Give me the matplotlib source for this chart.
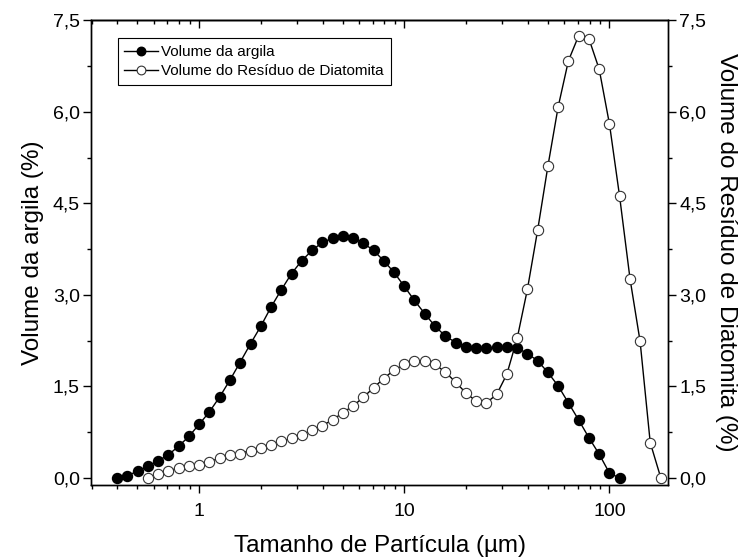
import matplotlib
matplotlib.use("Agg")
import matplotlib.pyplot as plt
from matplotlib.ticker import FixedLocator, FuncFormatter, MultipleLocator, LogLocator, NullFormatter

plt.rcParams['font.family'] = ['Liberation Sans', 'DejaVu Sans']

# particle size grid (µm)
sizes = [0.398, 0.447, 0.501, 0.562, 0.631, 0.708, 0.794, 0.891,
         1.00, 1.12, 1.26, 1.41, 1.58, 1.78, 2.00, 2.24, 2.51, 2.82, 3.16, 3.55,
         3.98, 4.47, 5.01, 5.62, 6.31, 7.08, 7.94, 8.91,
         10.0, 11.2, 12.6, 14.1, 15.8, 17.8, 20.0, 22.4, 25.1, 28.2, 31.6, 35.5,
         39.8, 44.7, 50.1, 56.2, 63.1, 70.8, 79.4, 89.1,
         100.0, 112.0, 126.0, 141.0, 158.0, 178.0]

# Volume da argila (%) for sizes[0:50]
argila = [0.00, 0.04, 0.11, 0.19, 0.28, 0.38, 0.52, 0.68, 0.88, 1.08,
          1.33, 1.60, 1.89, 2.20, 2.49, 2.80, 3.08, 3.35, 3.56, 3.73,
          3.86, 3.93, 3.97, 3.93, 3.85, 3.73, 3.56, 3.37, 3.14, 2.91,
          2.69, 2.49, 2.33, 2.22, 2.15, 2.13, 2.13, 2.14, 2.15, 2.13,
          2.04, 1.92, 1.73, 1.51, 1.23, 0.95, 0.66, 0.39, 0.08, 0.00]

# Volume do Resíduo de Diatomita (%) for sizes[3:54]
residuo = [0.00, 0.07, 0.12, 0.16, 0.20, 0.22, 0.27, 0.32, 0.37, 0.40,
           0.45, 0.49, 0.54, 0.60, 0.65, 0.71, 0.78, 0.86, 0.95, 1.07,
           1.18, 1.32, 1.48, 1.63, 1.77, 1.86, 1.92, 1.92, 1.86, 1.74,
           1.57, 1.39, 1.26, 1.23, 1.37, 1.70, 2.29, 3.09, 4.07, 5.11,
           6.08, 6.84, 7.25, 7.20, 6.70, 5.80, 4.62, 3.26, 2.24, 0.58, 0.00]

x_argila = sizes[0:len(argila)]
x_residuo = sizes[3:3 + len(residuo)]

y_ticks = [0.0, 1.5, 3.0, 4.5, 6.0, 7.5]
x_ticks = [1, 10, 100]

fig = plt.figure(figsize=(7.39, 5.60), dpi=100)
ax = fig.add_axes([0.1231, 0.1348, 0.7809, 0.8288])
ax2 = ax.twinx()

l1, = ax.plot(x_argila, argila, '-', color='black', lw=1.0, marker='o',
              markersize=7.2, markerfacecolor='black', markeredgecolor='black',
              label='Volume da argila')
l2, = ax2.plot(x_residuo, residuo, '-', color='black', lw=1.0, marker='o',
               markersize=7.4, markerfacecolor='white', markeredgecolor='#333333',
               markeredgewidth=0.8, label='Volume do Resíduo de Diatomita')

for a in (ax, ax2):
    a.set_xscale('log')
    a.set_xlim(0.297, 193)
    a.set_ylim(-0.107, 7.5)
    a.yaxis.set_major_locator(FixedLocator(y_ticks))
    a.yaxis.set_minor_locator(MultipleLocator(0.75))
    a.yaxis.set_major_formatter(FuncFormatter(lambda v, p: f"{v:.1f}".replace('.', ',')))
    for s in a.spines.values():
        s.set_linewidth(1.0)

ax.xaxis.set_major_locator(FixedLocator(x_ticks))
ax.xaxis.set_major_formatter(FuncFormatter(lambda v, p: f"{v:g}"))
ax.xaxis.set_minor_locator(LogLocator(base=10, subs=range(2, 10), numticks=20))
ax.xaxis.set_minor_formatter(NullFormatter())

ax.tick_params(axis='x', which='major', direction='out', length=6, width=1.0,
               labelsize=14, pad=7, top=False)
ax.tick_params(axis='x', which='minor', direction='out', length=3, width=1.0, top=False)
ax.tick_params(axis='y', which='major', direction='out', length=6, width=1.0,
               labelsize=14, pad=2)
ax.tick_params(axis='y', which='minor', direction='out', length=3, width=1.0)
ax2.tick_params(axis='y', which='major', direction='out', length=6, width=1.0,
                labelsize=14, pad=2)
ax2.tick_params(axis='y', which='minor', direction='out', length=3, width=1.0)

# top axis ticks pointing inward
sec = ax.secondary_xaxis('top')
sec.xaxis.set_major_locator(FixedLocator(x_ticks))
sec.xaxis.set_minor_locator(LogLocator(base=10, subs=range(2, 10), numticks=20))
sec.xaxis.set_major_formatter(NullFormatter())
sec.xaxis.set_minor_formatter(NullFormatter())
sec.tick_params(which='major', direction='in', length=6, width=1.0)
sec.tick_params(which='minor', direction='in', length=3, width=1.0)
sec.spines['top'].set_linewidth(1.0)

ax.set_xlabel('Tamanho de Partícula (µm)', fontsize=17.5, labelpad=11)
ax.set_ylabel('Volume da argila (%)', fontsize=17.5, labelpad=6)
ax2.set_ylabel('Volume do Resíduo de Diatomita (%)', fontsize=17.5,
               rotation=270, labelpad=22)

leg = ax2.legend(handles=[l1, l2], loc='upper left', bbox_to_anchor=(0.046, 0.962),
                 borderaxespad=0, fontsize=11, frameon=True, fancybox=False,
                 edgecolor='black', framealpha=1, handlelength=2.2,
                 handletextpad=0.2, labelspacing=0.35, borderpad=0.45,
                 markerscale=0.85)
leg.get_frame().set_linewidth(0.8)

fig.savefig('out.png', dpi=100)
